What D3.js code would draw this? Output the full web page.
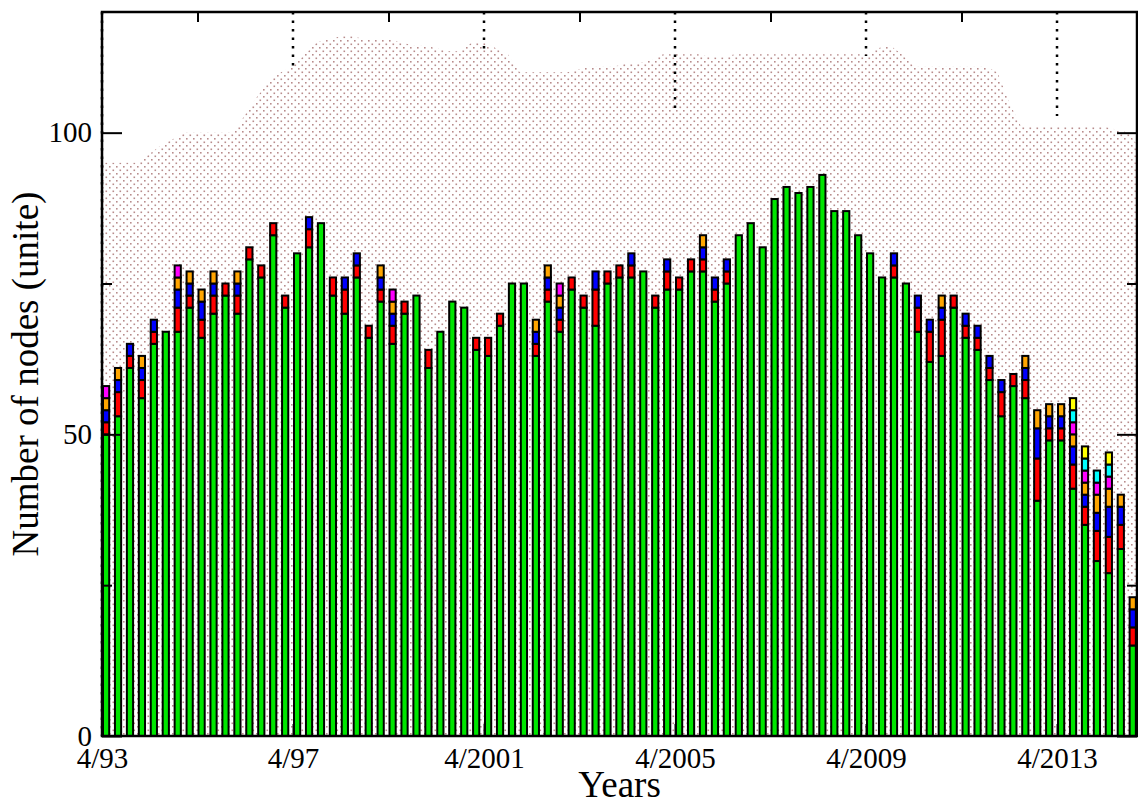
<!DOCTYPE html>
<html>
<head>
<meta charset="utf-8">
<title>Number of nodes</title>
<style>
  body { margin: 0; background: #fff; }
  text { font-family: "Liberation Serif", "DejaVu Serif", serif; fill: #000; }
</style>
<script src="https://d3js.org/d3.v7.min.js"></script>
</head>
<body>
<svg id="chart" width="1138" height="806"></svg>
<script>
// quarterly lists, first one is 4/93
var start = 1993.25;
var tickYears = [1993.25, 1997.25, 2001.25, 2005.25, 2009.25, 2013.25];
var tickLabels = ["4/93", "4/97", "4/2001", "4/2005", "4/2009", "4/2013"];
var yTicks = [0, 50, 100];

// stacked series, bottom to top
var green = [50,53,61,56,65,67,67,71,66,70,73,70,79,76,83,71,80,81,85,73,70,76,66,72,65,70,73,61,67,72,
             71,64,63,68,75,75,63,72,67,74,71,68,75,76,76,77,71,74,74,77,77,72,75,83,85,81,89,91,90,91,
             93,87,87,83,80,76,76,75,67,62,63,71,66,64,59,53,58,56,39,49,49,41,35,29,27,31,15];
var red    = [2,4,2,3,2,0,4,2,3,3,2,3,2,2,2,2,0,3,0,3,4,2,2,2,3,2,0,3,0,0,
              0,2,3,2,0,0,2,2,2,2,2,6,2,2,2,0,2,3,2,2,2,2,2,0,0,0,0,0,0,0,
              0,0,0,0,0,0,2,0,4,5,6,2,2,2,2,4,2,3,7,2,2,4,3,5,6,4,3];
var blue   = [2,2,2,2,2,0,3,2,3,2,0,2,0,0,0,0,0,2,0,0,2,2,0,2,2,0,0,0,0,0,
              0,0,0,0,0,0,2,2,2,0,0,3,0,0,2,0,0,2,0,0,2,2,2,0,0,0,0,0,0,0,
              0,0,0,0,0,0,2,0,2,2,2,0,2,2,2,2,0,2,5,2,2,3,2,3,5,3,3];
var orange = [2,2,0,2,0,0,2,2,2,2,0,2,0,0,0,0,0,0,0,0,0,0,0,2,2,0,0,0,0,0,
              0,0,0,0,0,0,2,2,2,0,0,0,0,0,0,0,0,0,0,0,2,0,0,0,0,0,0,0,0,0,
              0,0,0,0,0,0,0,0,0,0,2,0,0,0,0,0,0,2,3,2,2,2,2,3,3,2,2];
var magenta = [2,0,0,0,0,0,2,0,0,0,0,0,0,0,0,0,0,0,0,0,0,0,0,0,2,0,0,0,0,0,
               0,0,0,0,0,0,0,0,2,0,0,0,0,0,0,0,0,0,0,0,0,0,0,0,0,0,0,0,0,0,
               0,0,0,0,0,0,0,0,0,0,0,0,0,0,0,0,0,0,0,0,0,2,2,2,2,0,0];
var cyan   = [0,0,0,0,0,0,0,0,0,0,0,0,0,0,0,0,0,0,0,0,0,0,0,0,0,0,0,0,0,0,
              0,0,0,0,0,0,0,0,0,0,0,0,0,0,0,0,0,0,0,0,0,0,0,0,0,0,0,0,0,0,
              0,0,0,0,0,0,0,0,0,0,0,0,0,0,0,0,0,0,0,0,0,2,2,2,2,0,0];
var yellow = [0,0,0,0,0,0,0,0,0,0,0,0,0,0,0,0,0,0,0,0,0,0,0,0,0,0,0,0,0,0,
              0,0,0,0,0,0,0,0,0,0,0,0,0,0,0,0,0,0,0,0,0,0,0,0,0,0,0,0,0,0,
              0,0,0,0,0,0,0,0,0,0,0,0,0,0,0,0,0,0,0,0,0,2,2,0,2,0,0];

// shaded background level, one value per quarter
var capacity = [95,95,95,95,96.5,98,99,100,100,100,100,100,103,106,108.5,110,111,113,115,115.5,
                116,116,115.5,115.5,115.5,115,114.5,114.5,114,113.5,113.5,115,115,114,113,110,110,110,110,110,
                110.5,111,111,111,111.5,111.5,112,113,113,113,113,112.5,112.5,113,113,113,113,113,113,113,
                113,113,113,113,113,114,114.5,113,111,111,111,111,111,111,111,110,105,101,101,101,
                101,101,101,101,101,100.5,100];

var seriesNames = ["green", "red", "blue", "orange", "magenta", "cyan", "yellow"];
var seriesData = [green, red, blue, orange, magenta, cyan, yellow];
var colors = ["#00e600", "#ff0000", "#0000ff", "#ffa500", "#ff00ff", "#00ffff", "#ffff00"];

var svg = d3.select("#chart"),
    margin = {top: 12, right: 1, bottom: 70, left: 102},
    width = +svg.attr("width") - margin.left - margin.right,
    height = +svg.attr("height") - margin.top - margin.bottom;

var x = d3.scaleLinear().domain([start, 2014.925]).range([0, width]);
var y = d3.scaleLinear().domain([0, 120]).range([height, 0]);

var defs = svg.append("defs");
var pat = defs.append("pattern")
    .attr("id", "dots")
    .attr("patternUnits", "userSpaceOnUse")
    .attr("width", 7).attr("height", 7);
pat.append("rect").attr("x", 0).attr("y", 0).attr("width", 1.6).attr("height", 1.6).attr("fill", "#b88c8c");
pat.append("rect").attr("x", 3.5).attr("y", 3.5).attr("width", 1.6).attr("height", 1.6).attr("fill", "#b88c8c");

defs.append("clipPath").attr("id", "plotclip")
  .append("rect").attr("width", width).attr("height", height);

var g = svg.append("g")
    .attr("transform", "translate(" + margin.left + "," + margin.top + ")");

var rows = green.map(function(v, i) {
  var r = {t: start + i * 0.25};
  seriesNames.forEach(function(n, k) { r[n] = seriesData[k][i]; });
  r.cap = capacity[i];
  return r;
});

var plot = g.append("g").attr("clip-path", "url(#plotclip)");

// shaded area
var area = d3.area()
    .x(function(d) { return x(d.t); })
    .y0(y(0))
    .y1(function(d) { return y(d.cap); });
var capRows = rows.concat([{t: 2014.925, cap: 98}]);
plot.append("path").datum(capRows)
    .attr("fill", "url(#dots)")
    .attr("d", area);

// dotted verticals at the top of the major ticks
var dotLen = [0, 55, 40, 98, 44, 104];
tickYears.forEach(function(t, i) {
  if (i === 0) return;
  g.append("line")
    .attr("x1", x(t)).attr("x2", x(t))
    .attr("y1", 0).attr("y2", dotLen[i])
    .attr("stroke", "#000").attr("stroke-width", 2.5)
    .attr("stroke-dasharray", "2.5,6");
});
g.append("line")
  .attr("x1", 0).attr("x2", 0).attr("y1", 0).attr("y2", height)
  .attr("stroke", "#000").attr("stroke-width", 2.5)
  .attr("stroke-dasharray", "2.5,6");

// stacked bars
var stack = d3.stack().keys(seriesNames);
var layers = stack(rows);
var barW = x(start + 0.13) - x(start);

plot.selectAll(".layer")
  .data(layers)
  .enter().append("g")
    .attr("class", "layer")
    .attr("fill", function(d, k) { return colors[k]; })
  .selectAll("rect")
  .data(function(d) { return d.filter(function(s) { return s[1] > s[0]; }); })
  .enter().append("rect")
    .attr("x", function(d) { return x(d.data.t) + 1; })
    .attr("y", function(d) { return y(d[1]); })
    .attr("width", barW)
    .attr("height", function(d) { return y(d[0]) - y(d[1]); })
    .attr("stroke", "#000")
    .attr("stroke-width", 2);

// axes
var bottom = g.append("g")
    .attr("class", "xaxis")
    .attr("transform", "translate(0," + height + ")")
    .call(d3.axisBottom(x).tickValues(tickYears)
          .tickFormat(function(d, i) { return tickLabels[i]; })
          .tickSize(-12).tickPadding(11));
g.append("g")
    .call(d3.axisTop(x).tickValues([1995.25, 1999.25, 2003.25, 2007.25, 2011.25])
          .tickFormat("").tickSize(-10));
var left = g.append("g")
    .attr("class", "yaxis")
    .call(d3.axisLeft(y).tickValues(yTicks).tickSize(-20).tickPadding(10));
g.append("g").call(d3.axisLeft(y).tickValues([25, 75]).tickFormat("").tickSize(-10));
g.append("g")
    .attr("transform", "translate(" + width + ",0)")
    .call(d3.axisRight(y).tickValues(yTicks).tickFormat("").tickSize(-20));
g.append("g")
    .attr("transform", "translate(" + width + ",0)")
    .call(d3.axisRight(y).tickValues([25, 75]).tickFormat("").tickSize(-10));

g.selectAll(".domain").remove();
g.selectAll(".tick line").attr("stroke", "#000").attr("stroke-width", 2);
g.selectAll(".tick text").style("font-family", "'Liberation Serif', serif").attr("fill", "#000");
bottom.selectAll(".tick text").style("font-size", "29px");
left.selectAll(".tick text").style("font-size", "29px");

// frame
g.append("rect")
    .attr("width", width).attr("height", height)
    .attr("fill", "none").attr("stroke", "#000").attr("stroke-width", 2.5);

// axis titles
svg.append("text")
    .attr("x", margin.left + width / 2)
    .attr("y", 797)
    .attr("text-anchor", "middle")
    .style("font-size", "37px")
    .text("Years");

svg.append("text")
    .attr("transform", "translate(38," + (margin.top + height / 2) + ") rotate(-90)")
    .attr("text-anchor", "middle")
    .style("font-size", "37px")
    .text("Number of nodes (unite)");
</script>
</body>
</html>
